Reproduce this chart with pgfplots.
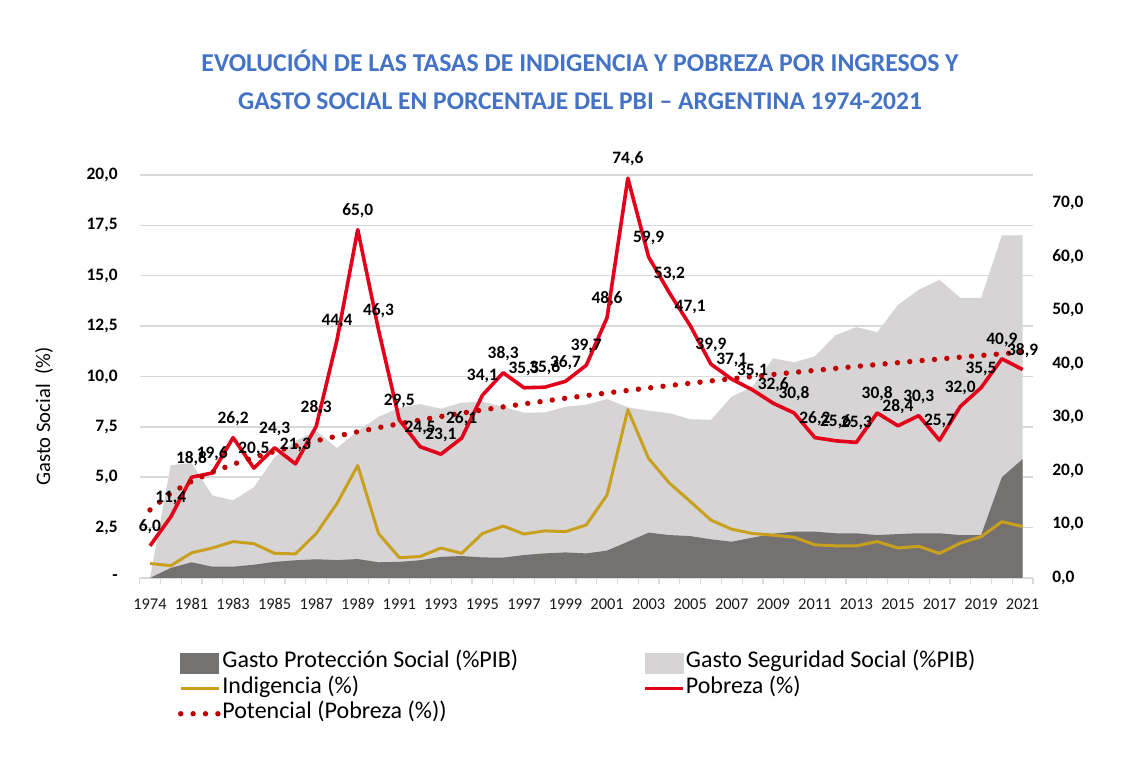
\documentclass[border=0pt]{standalone}
\usepackage{fontspec}
\setmainfont{Carlito}
\usepackage{graphicx}
\usepackage{pgfplots}
\pgfplotsset{compat=1.18}
\usepackage{pgfplotstable}

\definecolor{segur}{RGB}{214,212,213}
\definecolor{prot}{RGB}{118,113,113}
\definecolor{indig}{RGB}{201,160,30}
\definecolor{pob}{RGB}{226,0,26}
\definecolor{trendc}{RGB}{192,0,0}
\definecolor{titleblue}{RGB}{68,114,196}
\definecolor{gridc}{RGB}{217,217,217}

\pgfplotsset{
  lineleg/.style={legend image code/.code={\draw[##1] (0pt,0pt) -- (19pt,0pt);}},
}

\pgfplotstableread{
i segur prot indig pob lab trend
0 0.0 0.0 2.7 6.0 6,0 12.70
1 5.6 0.50 2.3 11.4 11,4 15.84
2 5.7 0.78 4.7 18.8 18,8 18.03
3 4.1 0.56 5.6 19.6 19,6 19.76
4 3.85 0.56 6.8 26.2 26,2 21.22
5 4.5 0.66 6.4 20.5 20,5 22.49
6 6.0 0.80 4.6 24.3 24,3 23.62
7 6.8 0.88 4.5 21.3 21,3 24.65
8 7.3 0.93 8.3 28.3 28,3 25.60
9 6.45 0.89 13.9 44.4 44,4 26.47
10 7.3 0.94 21.0 65.0 65,0 27.29
11 8.0 0.78 8.3 46.3 46,3 28.06
12 8.45 0.80 3.8 29.5 29,5 28.78
13 8.63 0.88 4.0 24.5 24,5 29.47
14 8.4 1.05 5.6 23.1 23,1 30.13
15 8.7 1.09 4.6 26.1 26,1 30.76
16 8.75 1.02 8.3 34.1 34,1 31.36
17 8.5 1.01 9.7 38.3 38,3 31.93
18 8.2 1.14 8.2 35.5 35,5 32.49
19 8.22 1.22 8.8 35.6 35,6 33.02
20 8.5 1.27 8.65 36.7 36,7 33.54
21 8.6 1.22 9.9 39.7 39,7 34.04
22 8.88 1.36 15.5 48.6 48,6 34.53
23 8.47 1.80 31.4 74.6 74,6 35.00
24 8.3 2.25 22.3 59.9 59,9 35.46
25 8.18 2.13 17.7 53.2 53,2 35.91
26 7.88 2.08 14.3 47.1 47,1 36.34
27 7.85 1.92 10.8 39.9 39,9 36.77
28 9.0 1.80 9.1 37.1 37,1 37.18
29 9.5 2.00 8.3 35.1 35,1 37.58
30 10.9 2.20 8.0 32.6 32,6 37.98
31 10.7 2.30 7.6 30.8 30,8 38.37
32 11.0 2.30 6.2 26.2 26,2 38.74
33 12.05 2.22 6.0 25.6 25,6 39.11
34 12.45 2.22 6.0 25.3 25,3 39.48
35 12.2 2.13 6.8 30.8 30,8 39.83
36 13.55 2.18 5.6 28.4 28,4 40.18
37 14.3 2.22 5.9 30.3 30,3 40.53
38 14.8 2.22 4.6 25.7 25,7 40.86
39 13.9 2.13 6.5 32.0 32,0 41.20
40 13.9 2.13 7.7 35.5 35,5 41.52
41 17.0 5.00 10.5 40.9 40,9 41.84
42 17.0 5.90 9.6 38.9 38,9 42.16
}\data

\begin{document}
\begin{tikzpicture}
\useasboundingbox (-69.8pt,-91pt) rectangle (500.2pt,289pt);

\node[text=titleblue] at (220.2pt,258.5pt) {\resizebox{378.5pt}{!}{\fontsize{12}{14}\selectfont\bfseries EVOLUCIÓN DE LAS TASAS DE INDIGENCIA Y POBREZA POR INGRESOS Y}};
\node[text=titleblue] at (220.2pt,238.5pt) {\resizebox{342pt}{!}{\fontsize{12}{14}\selectfont\bfseries GASTO SOCIAL EN PORCENTAJE DEL PBI – ARGENTINA 1974-2021}};

% left axis: areas
\begin{axis}[
  at={(0pt,0pt)}, anchor=south west,
  scale only axis, width=446.7pt, height=201.5pt,
  xmin=-0.5, xmax=42.5, ymin=0, ymax=20,
  axis x line*=bottom, axis y line*=left,
  x axis line style={gridc, line width=0.8pt},
  y axis line style={draw=none},
  xtick={0,2,...,42},
  xticklabels={1974,1981,1983,1985,1987,1989,1991,1993,1995,1997,1999,2001,2003,2005,2007,2009,2011,2013,2015,2017,2019,2021},
  minor xtick={-0.5,0.5,...,42.5},
  major tick length=0pt, minor tick length=3pt, tick align=outside,
  minor tick style={gridc, line width=0.6pt},
  ytick={0,2.5,5,7.5,10,12.5,15,17.5,20},
  yticklabels={-,{2,5},{5,0},{7,5},{10,0},{12,5},{15,0},{17,5},{20,0}},
  ymajorgrids, grid style={gridc, line width=0.75pt},
  xticklabel style={font=\fontsize{8.2}{9}\selectfont, text=black!90, anchor=north, inner sep=0pt, yshift=-10pt},
  yticklabel style={font=\fontsize{8.7}{10}\selectfont\bfseries, anchor=east, inner sep=0pt, xshift=-10.8pt},
  ylabel={Gasto Social\ \ (\%)},
  ylabel style={at={(axis description cs:-0.107,0.4005)}, anchor=center, font=\fontsize{10.3}{12}\selectfont},
]
\addplot[fill=segur, draw=none] table[x=i,y=segur]{\data} \closedcycle;
\addplot[fill=prot, draw=none] table[x=i,y=prot]{\data} \closedcycle;
\end{axis}

% right axis: lines
\begin{axis}[
  at={(0pt,0pt)}, anchor=south west,
  scale only axis, width=446.7pt, height=201.5pt,
  xmin=-0.5, xmax=42.5, ymin=0, ymax=75.2,
  clip=false,
  axis x line=none, axis y line*=right,
  y axis line style={draw=none},
  major tick length=0pt,
  ytick={0,10,...,70},
  yticklabels={{0,0},{10,0},{20,0},{30,0},{40,0},{50,0},{60,0},{70,0}},
  yticklabel style={font=\fontsize{8.7}{10}\selectfont\bfseries, anchor=west, inner sep=0pt, xshift=9.5pt},
  legend columns=2,
  legend cell align=left,
  legend style={at={(axis description cs:0.0430,-0.185)}, anchor=north west,
    draw=none, fill=none, inner sep=0pt, outer sep=0pt,
    font=\fontsize{12}{14}\selectfont, row sep=2.3pt,
    nodes={inner sep=0.5pt, text height=0.72em, text depth=0.22em},
    /tikz/every odd column/.style={column sep=0pt},
    /tikz/column 2/.style={column sep=62pt}},
]
\addlegendimage{legend image code/.code={\fill[prot] (0pt,-5pt) rectangle (19pt,5pt);}}
\addlegendentry{Gasto Protección Social (\%PIB)}
\addlegendimage{legend image code/.code={\fill[segur] (0pt,-5pt) rectangle (19pt,5pt);}}
\addlegendentry{Gasto Seguridad Social (\%PIB)}

\addplot[indig, line width=1.5pt, line join=round, lineleg]
  table[x=i,y=indig]{\data};
\addlegendentry{Indigencia (\%)}
\addplot[pob, line width=1.8pt, line join=round, lineleg]
  table[x=i,y=pob]{\data};
\addlegendentry{Pobreza (\%)}
\addplot[trendc, line width=2.7pt, line cap=round, dash pattern=on 0pt off 6.2pt, lineleg]
  table[x=i,y=trend]{\data};
\addlegendentry{Potencial (Pobreza (\%))}

\addplot[draw=none, mark=none, forget plot, nodes near coords, point meta=explicit symbolic,
  every node near coord/.append style={font=\fontsize{8.7}{10}\selectfont\bfseries, text=black, anchor=center, yshift=9.5pt, inner sep=0pt}]
  table[x=i,y=pob,meta=lab]{\data};
\end{axis}
\end{tikzpicture}
\end{document}
